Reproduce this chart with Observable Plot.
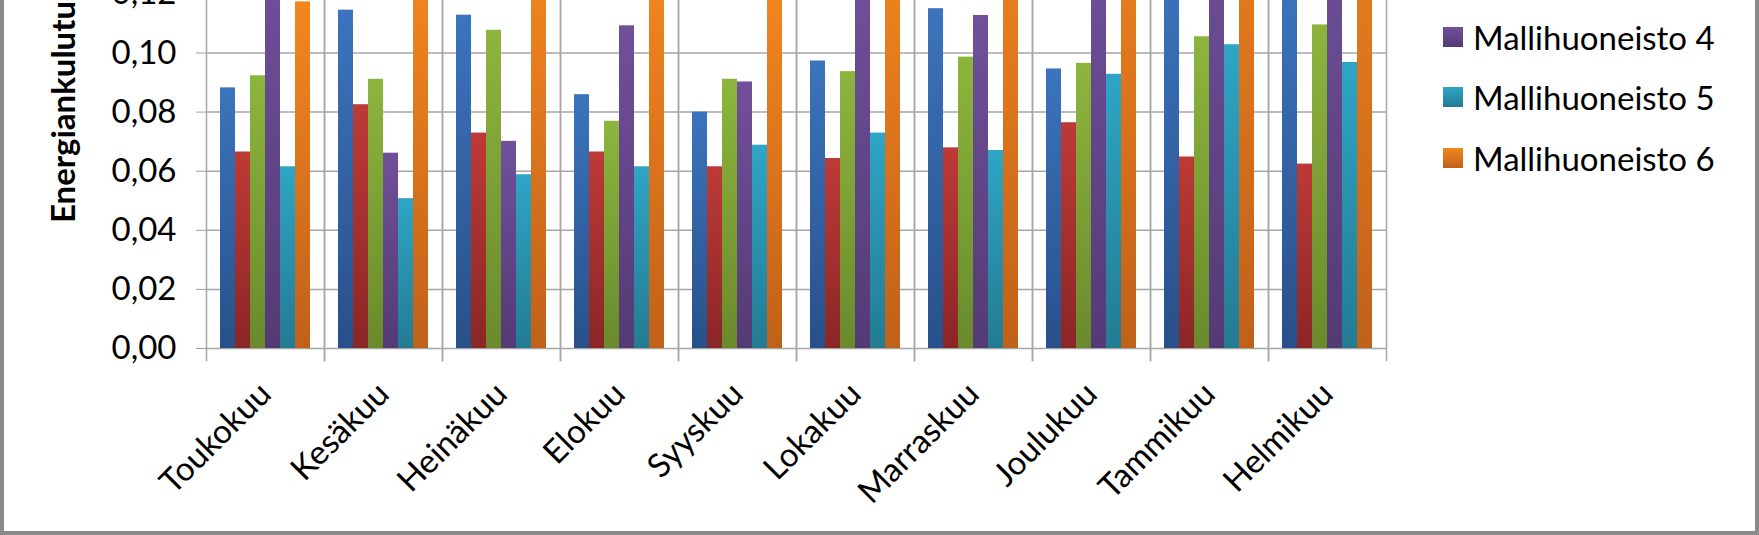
<!DOCTYPE html>
<html>
<head>
<meta charset="utf-8">
<script src="https://cdn.jsdelivr.net/npm/d3@7"></script>
<script src="https://cdn.jsdelivr.net/npm/@observablehq/plot@0.6"></script>
<style>
  html, body { margin: 0; padding: 0; background: #fff; }
  #wrap { position: relative; width: 1759px; height: 535px; overflow: hidden; background: #fff; font-family: Lato, "Open Sans", sans-serif; }
  #chart { position: absolute; left: 0; top: -243px; }
  #border { position: absolute; left: 0; top: -10px; width: 1759px; height: 545px; box-sizing: border-box;
            border-left: 4px solid #8a8a8a; border-right: 4px solid #8a8a8a; border-bottom: 4px solid #8a8a8a; pointer-events: none; }
  #ylabel { position: absolute; left: 46px; top: 223px; transform-origin: 0 0; transform: rotate(-90deg);
            white-space: nowrap; font-weight: bold; font-size: 33px; line-height: 1; color: #000; }
  .leg { position: absolute; left: 1443px; height: 40px; display: flex; align-items: center; font-size: 33px; color: #000; white-space: nowrap; }
  .leg svg { margin-right: 10px; }
  svg g[aria-label^="y-axis"] line, svg g[aria-label^="y-axis"] path { stroke: #a0a0a0; stroke-opacity: 1; }
</style>
</head>
<body>
<div id="wrap">
  <div id="chart"></div>
  <div id="ylabel">Energiankulutus</div>
  <div id="legend"></div>
  <div id="border"></div>
</div>
<script>
const months = ["Toukokuu","Kesäkuu","Heinäkuu","Elokuu","Syyskuu","Lokakuu","Marraskuu","Joulukuu","Tammikuu","Helmikuu"];
const seriesNames = ["Mallihuoneisto 1","Mallihuoneisto 2","Mallihuoneisto 3","Mallihuoneisto 4","Mallihuoneisto 5","Mallihuoneisto 6"];
const m1 = [0.0882, 0.1145, 0.1128, 0.0859, 0.0800, 0.0973, 0.1150, 0.0946, 0.128, 0.124];
const m2 = [0.0665, 0.0825, 0.0729, 0.0665, 0.0615, 0.0643, 0.0679, 0.0764, 0.0648, 0.0624];
const m3 = [0.0923, 0.0911, 0.1077, 0.0769, 0.0911, 0.0937, 0.0986, 0.0965, 0.1055, 0.1095];
const m4 = [0.130, 0.0661, 0.0701, 0.1092, 0.0902, 0.125, 0.1127, 0.135, 0.150, 0.145];
const m5 = [0.0615, 0.0507, 0.0588, 0.0615, 0.0688, 0.0729, 0.0670, 0.0928, 0.1028, 0.0968];
const m6 = [0.1173, 0.128, 0.132, 0.127, 0.123, 0.140, 0.158, 0.170, 0.190, 0.180];
const yTicks = [0, 0.02, 0.04, 0.06, 0.08, 0.10, 0.12];
const legendShown = ["Mallihuoneisto 4","Mallihuoneisto 5","Mallihuoneisto 6"];
// gradient colours (top, bottom) per series
const gradTop = ["#3b74bd","#bd3a36","#8db53d","#70509b","#2fa5c5","#f4861f"];
const gradBottom = ["#28508a","#8a2626","#6a8a2d","#543a75","#237b93","#c0611a"];

const series = [m1, m2, m3, m4, m5, m6];
const data = [];
months.forEach((m, i) => series.forEach((s, j) => data.push({month: m, series: seriesNames[j], value: s[i]})));

const fmt = d => d.toFixed(2).replace(".", ",");
const gridColor = "#a6a6a6";

function build(useAnchor) {
  const frames = useAnchor
    ? [Plot.frame({anchor: "left", stroke: gridColor, strokeWidth: 1.5, insetBottom: -12}),
       Plot.frame({anchor: "right", stroke: gridColor, strokeWidth: 1.5, insetBottom: -12})]
    : [Plot.frame({stroke: gridColor, strokeWidth: 1.5})];
  return Plot.plot({
    width: 1420,
    height: 781,
    marginLeft: 202,
    marginRight: 31,
    marginTop: 0,
    marginBottom: 190,
    style: {fontFamily: "Lato, 'Open Sans', sans-serif", fontSize: "33px", color: "#000", background: "transparent", overflow: "visible"},
    fx: {domain: months, padding: 0, label: null, tickRotate: -45, tickSize: 0, tickPadding: 40},
    x: {domain: seriesNames, paddingInner: 0, paddingOuter: 0.75, axis: null},
    y: {domain: [0, 0.2], ticks: yTicks, tickFormat: fmt, tickSize: 10, tickPadding: 20, label: null},
    color: {domain: seriesNames, range: seriesNames.map((d, i) => `url(#grad${i})`)},
    marks: [
      Plot.ruleY(yTicks, {stroke: gridColor, strokeWidth: 1.5}),
      Plot.barY(data, {fx: "month", x: "series", y: "value", fill: "series"}),
      ...frames
    ]
  });
}

let svg = build(true);
if (!svg.querySelector('g[aria-label="frame"] line')) svg = build(false);

const ns = "http://www.w3.org/2000/svg";
function addDefs(target, suffix) {
  const defs = document.createElementNS(ns, "defs");
  seriesNames.forEach((d, i) => {
    const g = document.createElementNS(ns, "linearGradient");
    g.setAttribute("id", `grad${i}${suffix}`);
    g.setAttribute("x1", "0"); g.setAttribute("y1", "0"); g.setAttribute("x2", "0"); g.setAttribute("y2", "1");
    [[0, gradTop[i]], [1, gradBottom[i]]].forEach(([o, c]) => {
      const st = document.createElementNS(ns, "stop");
      st.setAttribute("offset", o); st.setAttribute("stop-color", c);
      g.appendChild(st);
    });
    defs.appendChild(g);
  });
  target.insertBefore(defs, target.firstChild);
}
addDefs(svg, "");
document.getElementById("chart").appendChild(svg);

// legend (only the entries visible in the cropped picture)
const legend = document.getElementById("legend");
const legTops = [17, 77, 138];
legendShown.forEach((name, k) => {
  const i = seriesNames.indexOf(name);
  const row = document.createElement("div");
  row.className = "leg";
  row.style.top = legTops[k] + "px";
  const sw = document.createElementNS(ns, "svg");
  sw.setAttribute("width", 20); sw.setAttribute("height", 20);
  addDefs(sw, "_l" + k);
  const r = document.createElementNS(ns, "rect");
  r.setAttribute("width", 20); r.setAttribute("height", 20);
  r.setAttribute("fill", `url(#grad${i}_l${k})`);
  sw.appendChild(r);
  row.appendChild(sw);
  const t = document.createElement("span");
  t.textContent = name;
  row.appendChild(t);
  legend.appendChild(row);
});
</script>
</body>
</html>
